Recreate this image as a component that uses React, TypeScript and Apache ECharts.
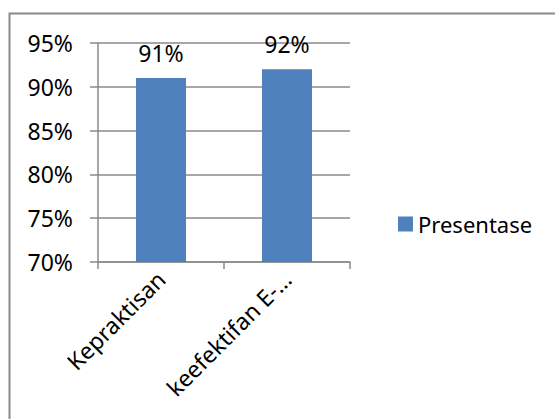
import React, { useEffect, useRef } from "react";
import * as echarts from "echarts";

const categories = ["Kepraktisan", "keefektifan E-…"];
const seriesName = "Presentase";
const values = [0.91, 0.92];
const yMin = 0.7;
const yMax = 0.95;
const yStep = 0.05;

const FONT = "Noto Sans";
const GRAY = "#8a8a8a";

export default function App() {
  const ref = useRef<HTMLDivElement>(null);
  useEffect(() => {
    document.body.style.margin = "0";
    const chart = echarts.init(ref.current!, null, { renderer: "svg" });
    chart.setOption({
      animation: false,
      backgroundColor: "#ffffff",
      textStyle: { fontFamily: FONT },
      graphic: [
        {
          type: "rect",
          shape: { x: 9.5, y: 13.5, width: 700, height: 600 },
          style: { fill: "none", stroke: GRAY, lineWidth: 2 },
          silent: true,
        },
      ],
      legend: {
        orient: "vertical",
        left: 393,
        top: 208,
        itemWidth: 15,
        itemHeight: 15,
        itemGap: 5,
        icon: "rect",
        textStyle: { fontFamily: FONT, fontSize: 22, color: "#000" },
        data: [seriesName],
      },
      grid: { left: 98, top: 43, right: 205, bottom: 157, containLabel: false },
      xAxis: {
        type: "category",
        data: categories,
        axisLine: { lineStyle: { color: GRAY, width: 1.5 } },
        axisTick: { show: true, length: 7, lineStyle: { color: GRAY, width: 1.5 } },
        axisLabel: {
          rotate: 45,
          interval: 0,
          margin: 13,
          fontFamily: FONT,
          fontSize: 23,
          color: "#000",
        },
      },
      yAxis: {
        type: "value",
        min: yMin,
        max: yMax,
        interval: yStep,
        axisLine: { show: true, lineStyle: { color: GRAY, width: 1.5 } },
        axisTick: { show: true, length: 8, lineStyle: { color: GRAY, width: 1.5 } },
        splitLine: { show: true, lineStyle: { color: GRAY, width: 1.5 } },
        axisLabel: {
          margin: 25,
          fontFamily: FONT,
          fontSize: 23,
          color: "#000",
          formatter: (v: number) => Math.round(v * 100) + "%",
        },
      },
      series: [
        {
          name: seriesName,
          type: "bar",
          data: values,
          barWidth: 50,
          itemStyle: { color: "#4F81BD" },
          label: {
            show: true,
            position: "top",
            distance: 14,
            fontFamily: FONT,
            fontSize: 23,
            color: "#000",
            formatter: (p: any) => Math.round(p.value * 100) + "%",
          },
        },
      ],
    });
    return () => chart.dispose();
  }, []);
  return <div ref={ref} style={{ width: 555, height: 419 }} />;
}
